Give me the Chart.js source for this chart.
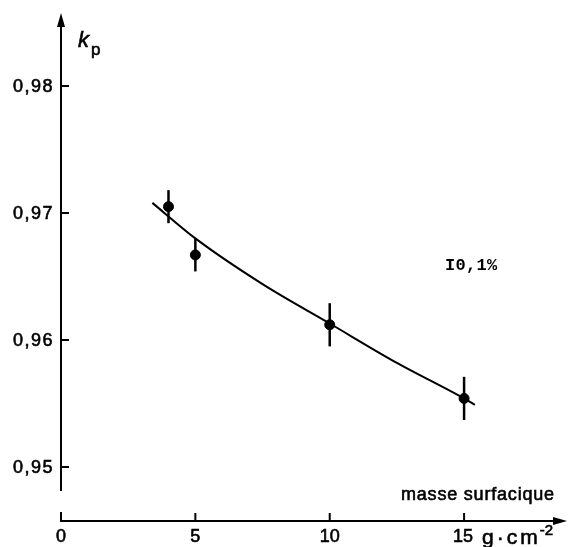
<html><head>
<style>
body { margin: 0; background: #fff; }
#wrap { width: 573px; height: 547px; }
</style>
</head>
<body>
<script src="https://cdn.jsdelivr.net/npm/chart.js@4/dist/chart.umd.min.js"></script>
<div id="wrap"><canvas id="myChart" width="573" height="547"></canvas></div>
<script>
// measured points (masse surfacique in g/cm2, kp)
masse = [4, 5, 10, 15];
kp = [0.9705, 0.9667, 0.9612, 0.9554];
incert = [0.0013, 0.0013, 0.0017, 0.0017];
// fitted curve
fitX = [3.4, 5, 7.5, 10, 12.5, 15, 15.4];
fitY = [0.9708, 0.9680, 0.9644, 0.9613, 0.9582, 0.9554, 0.9549];
xTicks = [0, 5, 10, 15];
xTickLabels = ['0', '5', '10', '15'];
yTicks = [0.95, 0.96, 0.97, 0.98];
yTickLabels = ['0,95', '0,96', '0,97', '0,98'];

pts = masse.map((x, i) => ({x: x, y: kp[i]}));
fit = fitX.map((x, i) => ({x: x, y: fitY[i]}));

// scanned text looks heavy, so fill + a thin stroke
function txt(c, s, x, y) {
  c.fillText(s, x, y);
  c.lineWidth = 0.6;
  c.strokeText(s, x, y);
}

axesPlugin = {
  id: 'axes',
  afterDatasetsDraw(chart) {
    const c = chart.ctx;
    const xs = chart.scales.x, ys = chart.scales.y;
    const x0 = xs.getPixelForValue(0);
    const yBase = ys.bottom - 1;
    c.save();
    c.strokeStyle = '#000';
    c.fillStyle = '#000';
    // error bars
    c.lineWidth = 2.5;
    masse.forEach((m, i) => {
      const px = xs.getPixelForValue(m);
      c.beginPath();
      c.moveTo(px, ys.getPixelForValue(kp[i] + incert[i]));
      c.lineTo(px, ys.getPixelForValue(kp[i] - incert[i]));
      c.stroke();
    });
    c.lineWidth = 2;
    // y axis (broken near the bottom)
    c.beginPath();
    c.moveTo(x0, ys.top + 4);
    c.lineTo(x0, yBase - 30);
    c.stroke();
    c.beginPath();
    c.moveTo(x0 - 4, ys.top + 14);
    c.lineTo(x0, ys.top);
    c.lineTo(x0 + 4, ys.top + 14);
    c.closePath();
    c.fill();
    // x axis
    c.beginPath();
    c.moveTo(x0, yBase - 9);
    c.lineTo(x0, yBase);
    c.lineTo(xs.right - 4, yBase);
    c.stroke();
    c.beginPath();
    c.moveTo(xs.right - 14, yBase - 4);
    c.lineTo(xs.right, yBase);
    c.lineTo(xs.right - 14, yBase + 4);
    c.closePath();
    c.fill();
    // y ticks
    c.font = '18px "Liberation Sans", Arial, sans-serif';
    c.textAlign = 'right';
    c.textBaseline = 'middle';
    yTicks.forEach((v, i) => {
      const py = ys.getPixelForValue(v);
      c.lineWidth = 2;
      c.beginPath();
      c.moveTo(x0, py);
      c.lineTo(x0 + 8, py);
      c.stroke();
      c.letterSpacing = '1.5px';
      txt(c, yTickLabels[i], x0 - 7, py + 1);
    });
    c.letterSpacing = '0px';
    // x ticks
    c.textAlign = 'center';
    xTicks.forEach((v, i) => {
      const px = xs.getPixelForValue(v);
      if (v > 0) {
        c.lineWidth = 2;
        c.beginPath();
        c.moveTo(px, yBase);
        c.lineTo(px, yBase - 8);
        c.stroke();
      }
      txt(c, xTickLabels[i], px + (v == 15 ? -1 : 0), yBase + 16);
    });
    // unit
    c.textAlign = 'left';
    c.font = '21px "Liberation Sans", Arial, sans-serif';
    c.letterSpacing = '3px';
    const ux = xs.getPixelForValue(15) + 18;
    txt(c, 'g\u00b7cm', ux, yBase + 17);
    const uw = c.measureText('g\u00b7cm').width;
    c.font = '15px "Liberation Sans", Arial, sans-serif';
    c.letterSpacing = '0px';
    txt(c, '-2', ux + uw - 1, yBase + 10);
    // axis titles
    c.font = '18px "Liberation Sans", Arial, sans-serif';
    c.letterSpacing = '0.8px';
    txt(c, 'masse surfacique', 401, yBase - 26);
    c.letterSpacing = '0px';
    c.font = 'italic 22px "Liberation Sans", Arial, sans-serif';
    txt(c, 'k', 78, 41);
    c.font = '17px "Liberation Sans", Arial, sans-serif';
    txt(c, 'p', 91, 50);
    // uncertainty note
    c.font = 'bold 17px "Liberation Mono", monospace';
    c.letterSpacing = '0.3px';
    c.fillText('I0,1%', 445, 266);
    c.restore();
  }
};

ctx = document.getElementById('myChart').getContext('2d');
myChart = new Chart(ctx, {
  type: 'scatter',
  data: {
    datasets: [{
      label: 'ajustement',
      data: fit,
      showLine: true,
      borderColor: '#000',
      borderWidth: 2,
      pointRadius: 0,
      cubicInterpolationMode: 'monotone',
      fill: false
    }, {
      label: 'kp',
      data: pts,
      backgroundColor: '#000',
      borderColor: '#000',
      pointRadius: 5,
      pointHoverRadius: 5
    }]
  },
  options: {
    responsive: false,
    animation: false,
    events: [],
    layout: { padding: { left: 61, right: 1, top: 13, bottom: 25 } },
    plugins: { legend: { display: false }, tooltip: { enabled: false } },
    scales: {
      x: { type: 'linear', display: false, min: 0, max: 18.83 },
      y: { type: 'linear', display: false, min: 0.94567, max: 0.98575 }
    }
  },
  plugins: [axesPlugin]
});
</script>
</body>
</html>
